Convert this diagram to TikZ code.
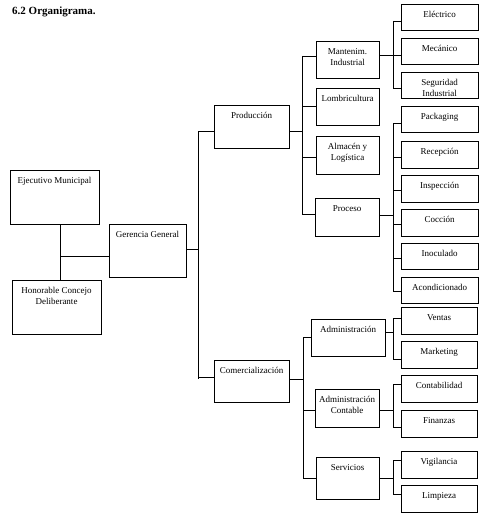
\documentclass[tikz,border=0pt]{standalone}
\usepackage{fontspec}
\setmainfont{Liberation Serif}
\begin{document}
\begin{tikzpicture}[x=1pt,y=-1pt,
  boxst/.style={draw,line width=0.8pt,rectangle,inner sep=0pt,outer sep=0pt,anchor=north west},
  txt/.style={anchor=north,inner sep=0pt,align=center,font=\fontsize{9}{11}\selectfont},
  conn/.style={draw,line width=0.8pt}]
\useasboundingbox (0,0) rectangle (483,516);
\newcommand\bx[6]{%
  \node[boxst,minimum width={(#4)-(#2)},minimum height={(#5)-(#3)}] (#1) at (#2,#3) {};
  \node[txt] (#1-t) at ([yshift=-5.5pt]#1.north) {\strut\vphantom{}#6};}
\node[anchor=north west,inner sep=0pt,font=\bfseries\fontsize{11}{13}\selectfont] (title) at (12,7) {6.2 Organigrama.};
% level boxes
\bx{eje}{10}{170}{99}{224}{Ejecutivo Municipal}
\bx{hon}{12}{280}{101}{334}{Honorable Concejo\\Deliberante}
\bx{ger}{109}{224}{186}{277}{Gerencia General}
\bx{prod}{214}{105}{289}{148}{Producción}
\bx{com}{214}{360}{289}{402}{Comercialización}
\bx{mant}{316}{41}{379}{78}{Mantenim.\\Industrial}
\bx{lomb}{316}{88}{379}{125}{Lombricultura}
\bx{alm}{316}{136}{379}{174}{Almacén y\\Logística}
\bx{proc}{315}{198}{379}{236}{Proceso}
\bx{elec}{401}{4}{478}{30}{Eléctrico}
\bx{mec}{401}{38}{478}{64}{Mecánico}
\bx{seg}{401}{72}{478}{98}{Seguridad\\Industrial}
\bx{pack}{401}{106}{478}{132}{Packaging}
\bx{rec}{401}{141}{478}{168}{Recepción}
\bx{insp}{401}{175}{478}{202}{Inspección}
\bx{coc}{401}{209}{478}{236}{Cocción}
\bx{ino}{401}{243}{478}{269}{Inoculado}
\bx{aco}{401}{277}{478}{303}{Acondicionado}
\bx{adm}{311}{319}{385}{356}{Administración}
\bx{adc}{315}{389}{379}{427}{Administración\\Contable}
\bx{ser}{316}{457}{379}{499}{Servicios}
\bx{ven}{401}{307}{477}{334}{Ventas}
\bx{mkt}{401}{341}{477}{368}{Marketing}
\bx{cont}{401}{375}{477}{402}{Contabilidad}
\bx{fin}{401}{410}{477}{437}{Finanzas}
\bx{vig}{401}{451}{477}{478}{Vigilancia}
\bx{lim}{401}{485}{477}{512}{Limpieza}
% bus coordinates
\coordinate (b0) at (60,256);
\coordinate (b1) at (198,249);
\coordinate (b2) at (302,131);
\coordinate (b3) at (303,379);
\coordinate (bm) at (393,55);
\coordinate (bp) at (393,215);
\coordinate (ba) at (393,332);
\coordinate (bc) at (393,410);
\coordinate (bs) at (393,478);
% executive / council
\draw[conn] (eje.south -| b0) -- (hon.north -| b0);
\draw[conn] (b0) -- (ger.west |- b0);
% gerencia trunk
\draw[conn] (ger.east |- b1) -- (b1);
\draw[conn] (b1 |- b2) -- (b1 |- b3);
\draw[conn] (b1 |- b2) -- (prod.west |- b2);
\draw[conn] (b1 |- 0,377) -- (com.west |- 0,377);
% produccion
\draw[conn] (prod.east |- b2) -- (b2);
\draw[conn] (b2 |- 0,56) -- (b2 |- 0,214);
\draw[conn] (b2 |- 0,56) -- (mant.west |- 0,56);
\draw[conn] (b2 |- 0,106) -- (lomb.west |- 0,106);
\draw[conn] (b2 |- 0,157) -- (alm.west |- 0,157);
\draw[conn] (b2 |- 0,214) -- (proc.west |- 0,214);
% comercializacion
\draw[conn] (com.east |- b3) -- (b3);
\draw[conn] (b3 |- 0,337) -- (b3 |- 0,478);
\draw[conn] (b3 |- 0,337) -- (adm.west |- 0,337);
\draw[conn] (b3 |- 0,410) -- (adc.west |- 0,410);
\draw[conn] (b3 |- 0,478) -- (ser.west |- 0,478);
% mantenimiento
\draw[conn] (mant.east |- bm) -- (bm);
\draw[conn] (bm |- 0,21) -- (bm |- 0,88);
\draw[conn] (bm |- 0,21) -- (elec.west |- 0,21);
\draw[conn] (bm) -- (mec.west |- bm);
\draw[conn] (bm |- 0,88) -- (seg.west |- 0,88);
% proceso
\draw[conn] (proc.east |- bp) -- (bp);
\draw[conn] (bp |- 0,123) -- (bp |- 0,291);
\draw[conn] (bp |- 0,123) -- (pack.west |- 0,123);
\draw[conn] (bp |- 0,157) -- (rec.west |- 0,157);
\draw[conn] (bp |- 0,190) -- (insp.west |- 0,190);
\draw[conn] (bp |- 0,224) -- (coc.west |- 0,224);
\draw[conn] (bp |- 0,258) -- (ino.west |- 0,258);
\draw[conn] (bp |- 0,291) -- (aco.west |- 0,291);
% administracion
\draw[conn] (adm.east |- ba) -- (ba);
\draw[conn] (ba |- 0,318) -- (ba |- 0,359);
\draw[conn] (ba |- 0,318) -- (ven.west |- 0,318);
\draw[conn] (ba |- 0,359) -- (mkt.west |- 0,359);
% contable
\draw[conn] (adc.east |- bc) -- (bc);
\draw[conn] (bc |- 0,384) -- (bc |- 0,427);
\draw[conn] (bc |- 0,384) -- (cont.west |- 0,384);
\draw[conn] (bc |- 0,427) -- (fin.west |- 0,427);
% servicios
\draw[conn] (ser.east |- bs) -- (bs);
\draw[conn] (bs |- 0,460) -- (bs |- 0,494);
\draw[conn] (bs |- 0,460) -- (vig.west |- 0,460);
\draw[conn] (bs |- 0,494) -- (lim.west |- 0,494);
\end{tikzpicture}
\end{document}
